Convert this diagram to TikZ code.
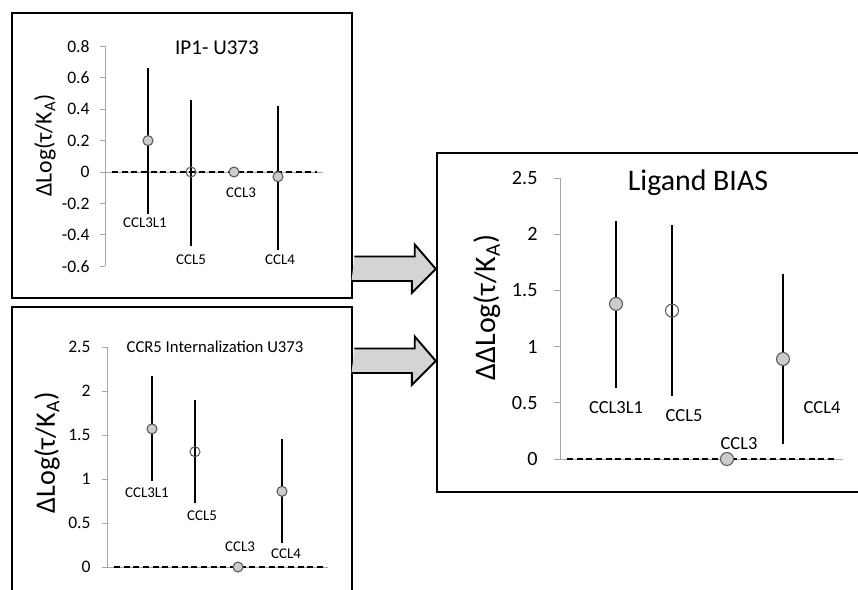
\documentclass[tikz,border=0pt]{standalone}
\usepackage{fontspec}
\setmainfont{Carlito}
\begin{document}
\begin{tikzpicture}[
   x=0.02cm, y=-0.02cm,
   panel/.style={draw, line width=1.4pt, inner sep=0pt},
   axisline/.style={draw=black!35, line width=0.5pt},
   zeroline/.style={dash pattern=on 3.5pt off 2pt, line width=1pt},
   bar/.style={line width=1.2pt},
   pt/.style={circle, draw=black!65, fill=black!20, line width=0.6pt, inner sep=0pt, minimum size=0.2cm},
   opt/.style={pt, fill=none},
   lbl/.style={font=\fontsize{8.5}{10}\selectfont},
   ticklbl/.style={anchor=east, inner sep=0pt, font=\fontsize{10}{12}\selectfont},
   ylbl/.style={rotate=90, font=\fontsize{13.5}{16}\selectfont},
   bigarrow/.style={draw, line width=1.1pt, fill=black!17, line join=miter}
]
   \clip (0,0) rectangle (858,589);

   % frames
   \node[panel, minimum width=6.8cm, minimum height=5.7cm] (ip1) at (182,155.5) {};
   \node[panel, minimum width=6.8cm, minimum height=6.4cm] (int) at (182,467) {};
   \node[panel, minimum width=9cm, minimum height=6.78cm] (bias) at (662,322.5) {};

   % block arrows into the bias panel
   \coordinate (s1) at ([xshift=0.7pt]ip1.east |- 0,269);
   \coordinate (s2) at ([xshift=0.7pt]int.east |- 0,361);
   \path[bigarrow] (s1) ++(0,-12.5) -- ++(60.3,0) -- ++(0,-12) -- (bias.west |- s1)
      -- ++(-24,24) -- ++(0,-12) -- ++(-60.3,0);
   \path[bigarrow] (s2) ++(0,-12.5) -- ++(60.3,0) -- ++(0,-12) -- (bias.west |- s2)
      -- ++(-24,24) -- ++(0,-12) -- ++(-60.3,0);

   % IP1 panel
   \begin{scope}[shift={(105,172)}, y=3.14cm]
      \draw[axisline] (0,-0.6) -- (0,0.8) (0,0) -- (218,0);
      \foreach \v [count=\i] in {0.8,0.6,0.4,0.2,0,-0.2,-0.4,-0.6}
         \draw[axisline] (-5,\v) -- (0,\v) node[ticklbl] (ya\i) at (-15,\v) {\v};
      \draw[zeroline] (7,0) -- (212,0);
      \draw[bar] (43,-0.27) -- (43,0.66) (86,-0.47) -- (86,0.46) (173,-0.5) -- (173,0.42);
      \node[pt] (a1) at (43,0.2) {};
      \node[opt] (a2) at (86,0) {};
      \node[pt] (a3) at (129,0) {};
      \node[pt] (a4) at (173,-0.03) {};
      \node[lbl] (la1) at (40,-0.32) {CCL3L1};
      \node[lbl] (la2) at (86,-0.56) {CCL5};
      \node[lbl] (la3) at (136,-0.134) {CCL3};
      \node[lbl] (la4) at (175,-0.56) {CCL4};
      \node[font=\fontsize{12}{14}\selectfont] (ta) at (112,0.79) {IP1- U373};
      \node[ylbl] (ya) at (-60,0.17) {ΔLog(τ/K\textsubscript{A})};
   \end{scope}

   % internalization panel
   \begin{scope}[shift={(107,567)}, y=1.76cm]
      \draw[axisline] (0,0) -- (0,2.5) (0,0) -- (221,0);
      \foreach \v [count=\i] in {2.5,2,1.5,1,0.5,0}
         \draw[axisline] (-5,\v) -- (0,\v) node[ticklbl] (yb\i) at (-16,\v) {\v};
      \draw[zeroline] (7,0) -- (216,0);
      \draw[bar] (45,0.98) -- (45,2.17) (88,0.73) -- (88,1.9) (175,0.27) -- (175,1.45);
      \node[pt] (b1) at (45,1.57) {};
      \node[opt] (b2) at (88,1.31) {};
      \node[pt] (b3) at (131,0) {};
      \node[pt] (b4) at (175,0.86) {};
      \node[lbl] (lb1) at (40,0.84) {CCL3L1};
      \node[lbl] (lb2) at (95,0.58) {CCL5};
      \node[lbl] (lb3) at (133,0.23) {CCL3};
      \node[lbl] (lb4) at (179,0.15) {CCL4};
      \node[font=\fontsize{9.5}{11}\selectfont] (tb) at (108,2.5) {CCR5 Internalization U373};
      \node[ylbl, font=\fontsize{16}{18}\selectfont] (yb) at (-60,1.3) {ΔLog(τ/K\textsubscript{A})};
   \end{scope}

   % ligand bias panel
   \begin{scope}[shift={(560,459)}, y=2.248cm,
         pt/.append style={minimum size=0.26cm}, bar/.style={line width=1.5pt},
         lbl/.style={font=\fontsize{10.5}{12}\selectfont},
         ticklbl/.append style={font=\fontsize{11.5}{13}\selectfont}]
      \draw[axisline] (0,0) -- (0,2.5) (0,0) -- (283,0);
      \foreach \v [count=\i] in {2.5,2,1.5,1,0.5,0}
         \draw[axisline] (-6,\v) -- (0,\v) node[ticklbl] (yc\i) at (-22,\v) {\v};
      \draw[zeroline] (7,0) -- (276,0);
      \draw[bar] (56,0.63) -- (56,2.12) (112,0.56) -- (112,2.08) (223,0.13) -- (223,1.65);
      \node[pt] (c1) at (56,1.38) {};
      \node[opt] (c2) at (112,1.32) {};
      \node[pt] (c3) at (167,0) {};
      \node[pt] (c4) at (223,0.89) {};
      \node[lbl] (lc1) at (56,0.46) {CCL3L1};
      \node[lbl] (lc2) at (124,0.39) {CCL5};
      \node[lbl] (lc3) at (179,0.14) {CCL3};
      \node[lbl] (lc4) at (262,0.46) {CCL4};
      \node[font=\fontsize{17}{20}\selectfont] (tc) at (138,2.46) {Ligand BIAS};
      \node[ylbl, font=\fontsize{17}{20}\selectfont] (yc) at (-73,1.35) {ΔΔLog(τ/K\textsubscript{A})};
   \end{scope}
\end{tikzpicture}
\end{document}
